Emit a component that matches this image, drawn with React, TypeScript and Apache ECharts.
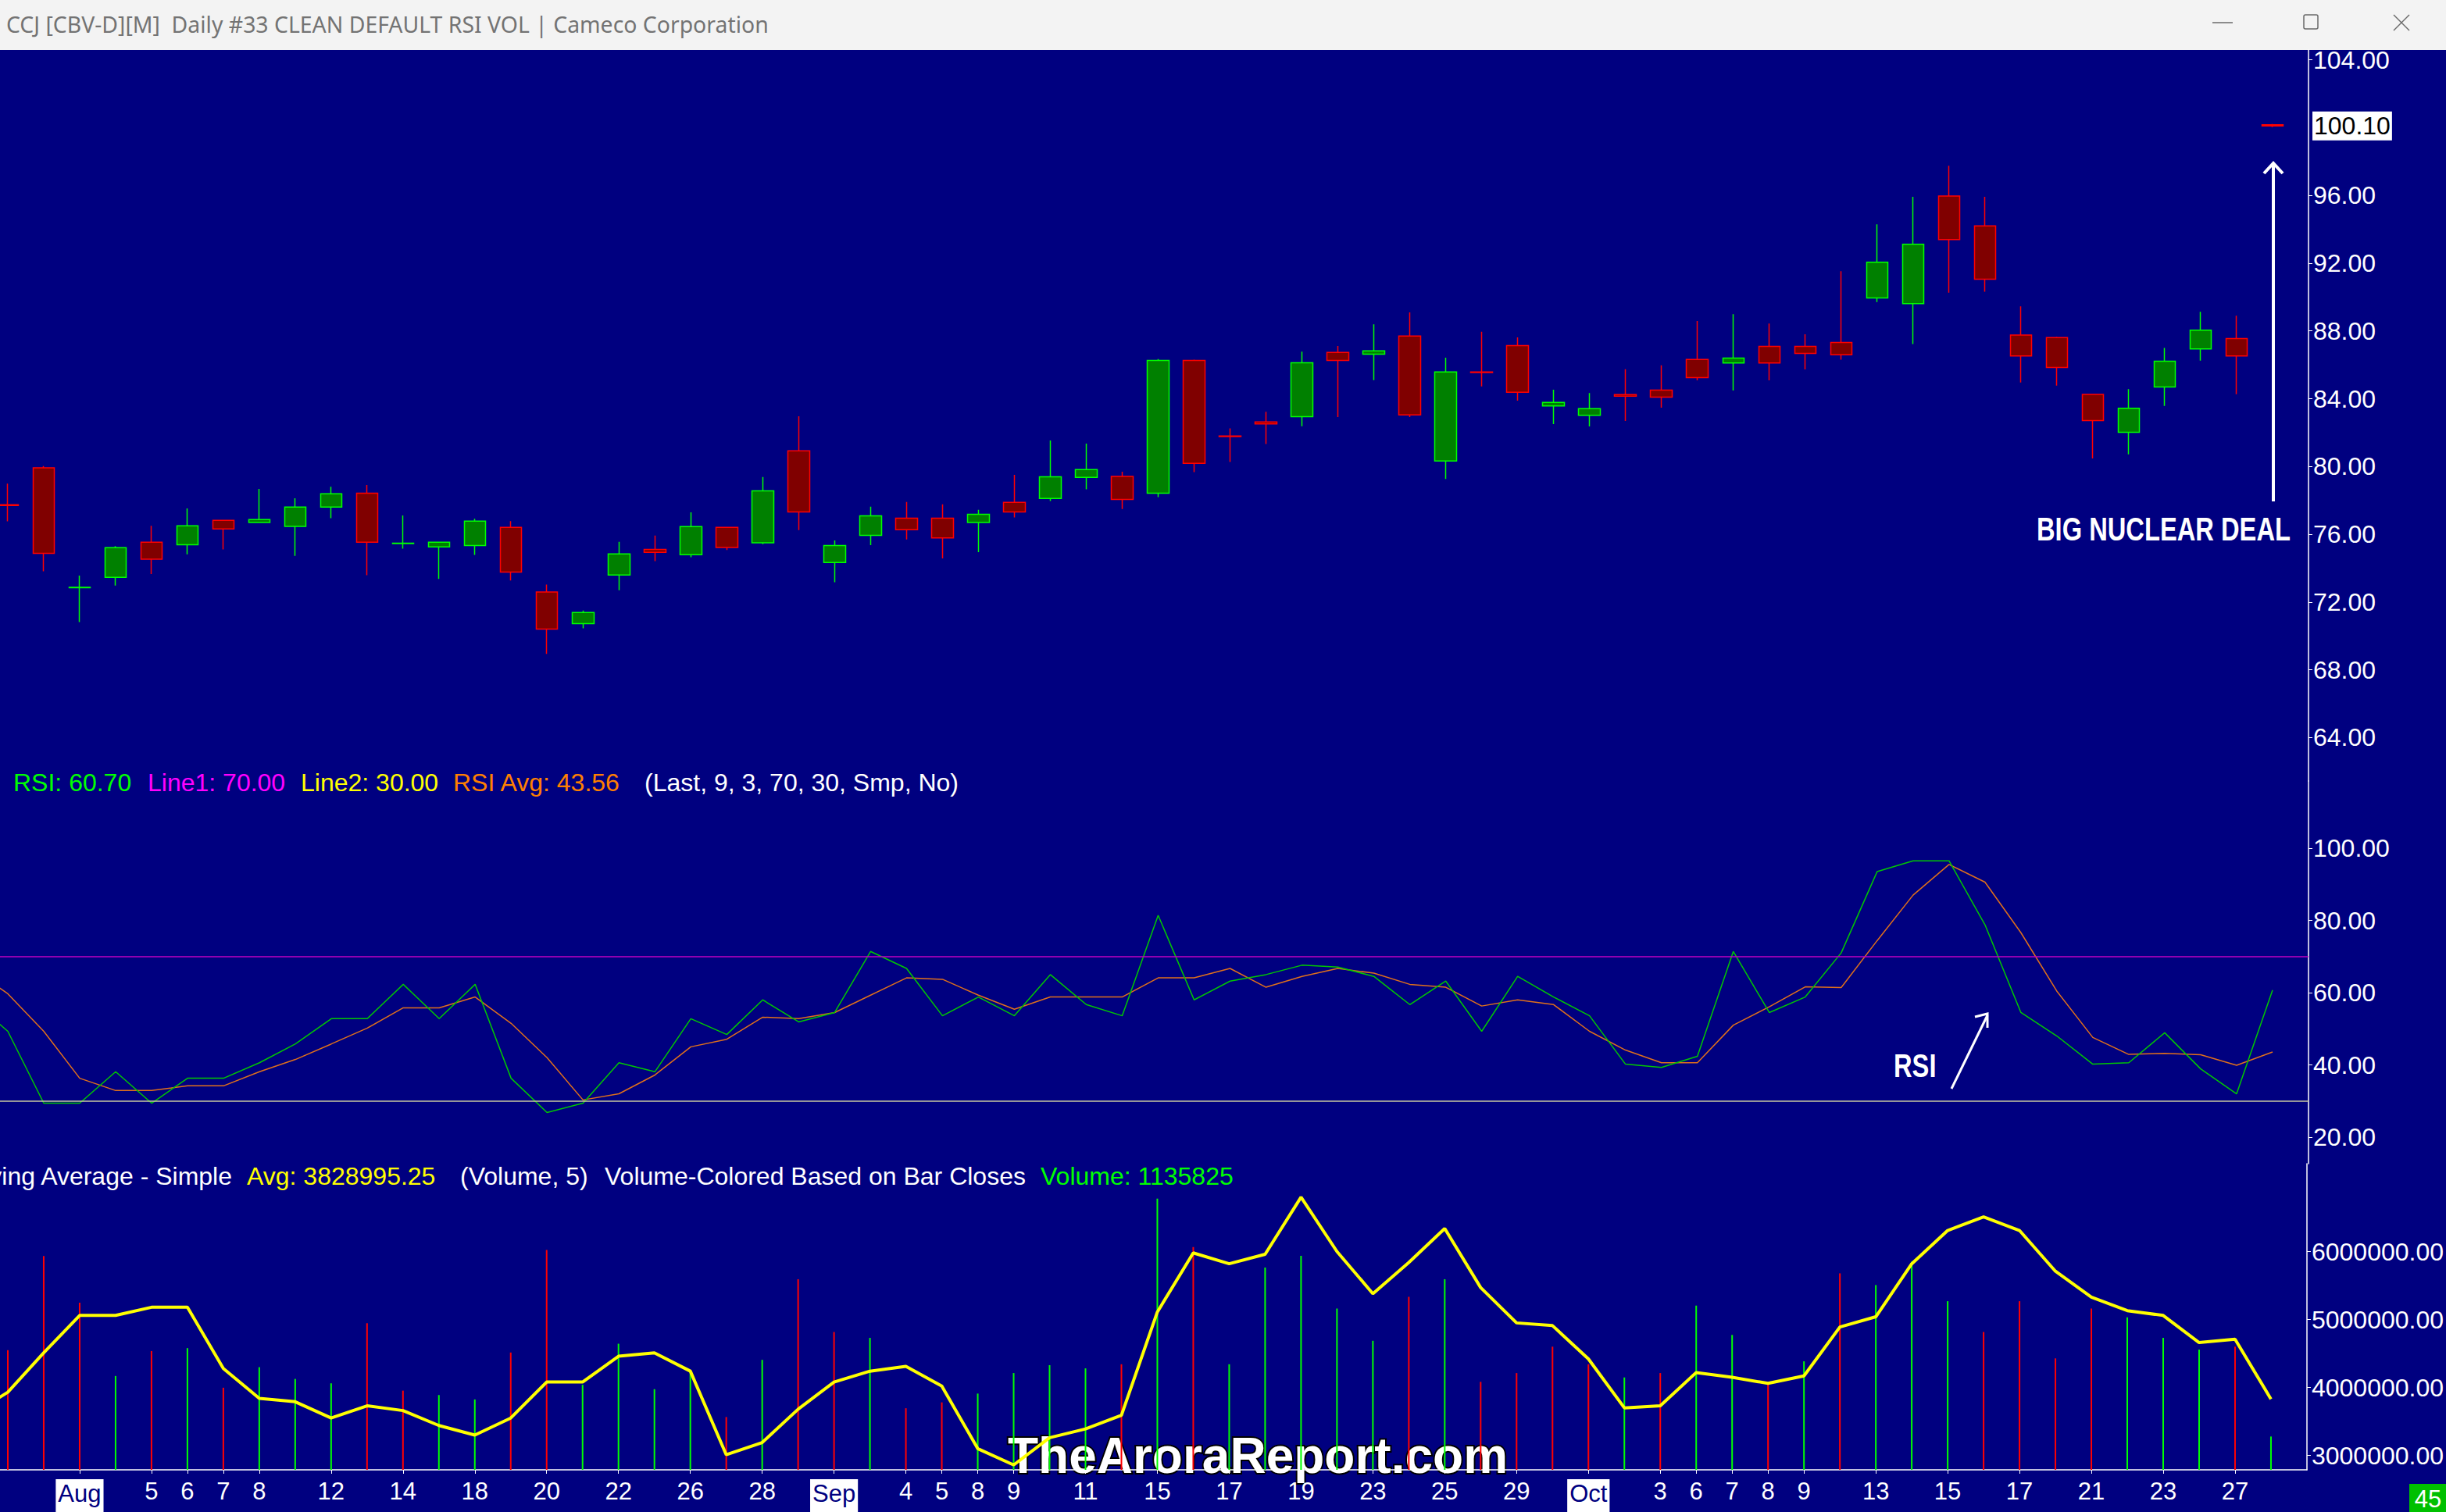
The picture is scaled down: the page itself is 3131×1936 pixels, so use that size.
import React, { useEffect, useRef } from 'react';
import * as echarts from 'echarts';

// ---------- DATA ----------
// category axis: first and last entries are empty padding slots
const dates = [
  '07-29', '07-30', '07-31', '08-01', '08-04', '08-05', '08-06', '08-07', '08-08', '08-11', '08-12', '08-13',
  '08-14', '08-15', '08-18', '08-19', '08-20', '08-21', '08-22', '08-25', '08-26', '08-27', '08-28', '08-29',
  '09-02', '09-03', '09-04', '09-05', '09-08', '09-09', '09-10', '09-11', '09-12', '09-15', '09-16', '09-17',
  '09-18', '09-19', '09-22', '09-23', '09-24', '09-25', '09-26', '09-29', '09-30', '10-01', '10-02', '10-03',
  '10-06', '10-07', '10-08', '10-09', '10-10', '10-13', '10-14', '10-15', '10-16', '10-17', '10-20', '10-21',
  '10-22', '10-23', '10-24', '10-27', '10-28', '10-29',
];

const dateLabels: Record<string, string> = {
  '08-01': 'Aug', '08-05': '5', '08-06': '6', '08-07': '7', '08-08': '8', '08-12': '12', '08-14': '14',
  '08-18': '18', '08-20': '20', '08-22': '22', '08-26': '26', '08-28': '28', '09-02': 'Sep', '09-04': '4',
  '09-05': '5', '09-08': '8', '09-09': '9', '09-11': '11', '09-15': '15', '09-17': '17', '09-19': '19',
  '09-23': '23', '09-25': '25', '09-29': '29', '10-01': 'Oct', '10-03': '3', '10-06': '6', '10-07': '7',
  '10-08': '8', '10-09': '9', '10-13': '13', '10-15': '15', '10-17': '17', '10-21': '21', '10-23': '23',
  '10-27': '27',
};
const monthNames = ['Aug', 'Sep', 'Oct'];

// bars from 07-30 to 10-28
const opens = [
  77.75, 79.92, 72.85, 73.46, 75.53, 75.38, 76.82, 76.70, 76.47, 77.61, 78.42, 75.45, 75.26, 75.34, 76.41, 72.59,
  70.73, 73.60, 75.11, 74.80, 76.41, 75.50, 80.93, 74.33, 75.94, 76.95, 76.95, 76.70, 77.88, 78.11, 79.36, 79.41,
  78.42, 86.26, 81.80, 82.63, 82.94, 86.73, 86.63, 87.70, 80.33, 85.58, 87.13, 83.58, 83.02, 84.24, 84.51, 86.32,
  86.11, 87.09, 87.09, 87.32, 89.95, 89.61, 95.96, 94.20, 87.76, 87.61, 84.25, 82.02, 84.69, 86.94, 87.55, 100.17,
];
const closes = [
  77.70, 74.88, 72.87, 75.21, 74.53, 76.50, 76.31, 76.87, 77.61, 78.39, 75.53, 75.47, 75.53, 76.78, 73.77, 70.41,
  71.38, 74.84, 74.93, 76.45, 75.22, 78.56, 77.32, 75.34, 77.09, 76.27, 75.79, 77.18, 77.32, 79.39, 79.82, 78.06,
  86.26, 80.19, 81.76, 82.52, 86.12, 86.26, 86.82, 83.04, 85.58, 85.54, 84.38, 83.78, 83.41, 84.15, 84.09, 85.25,
  86.40, 86.11, 86.67, 86.59, 92.05, 93.12, 93.39, 91.05, 86.52, 85.84, 82.71, 83.44, 86.21, 88.05, 86.52, 100.10,
];
const lows = [
  76.76, 73.81, 70.82, 72.97, 73.65, 74.82, 75.11, 76.68, 74.72, 76.95, 73.58, 75.15, 73.36, 74.78, 73.27, 68.94,
  70.45, 72.70, 74.41, 74.64, 75.07, 75.42, 76.25, 73.17, 75.36, 75.69, 74.58, 74.95, 76.99, 77.96, 78.66, 77.49,
  78.19, 79.67, 80.27, 81.33, 82.38, 82.92, 85.10, 82.92, 79.26, 84.73, 83.89, 82.50, 82.36, 82.69, 83.47, 85.08,
  84.48, 85.08, 85.73, 86.30, 89.70, 87.23, 90.26, 90.32, 84.96, 84.77, 80.47, 80.72, 83.58, 86.25, 84.27, 100.03,
];
const highs = [
  78.99, 80.02, 73.56, 75.30, 76.50, 77.53, 76.85, 78.68, 78.13, 78.81, 78.91, 77.11, 75.55, 76.91, 76.78, 73.03,
  71.50, 75.55, 75.92, 77.30, 76.43, 79.38, 82.96, 75.63, 77.63, 77.90, 77.77, 77.44, 79.51, 81.53, 81.35, 79.69,
  86.34, 86.30, 82.25, 83.23, 86.78, 87.11, 88.39, 89.09, 86.42, 87.95, 87.62, 84.53, 84.34, 85.74, 85.97, 88.59,
  88.99, 88.44, 87.80, 91.53, 94.29, 95.92, 97.75, 95.92, 89.45, 87.65, 84.27, 84.56, 87.00, 89.13, 88.90, 100.21,
];
const lastPrice = 100.1;

// RSI(9) and its 3-bar average, from 07-29 to 10-28
const rsiValues = [
  58.0, 49.3, 29.4, 29.4, 38.1, 29.4, 36.3, 36.3, 40.6, 45.8, 52.8, 52.8, 62.3, 52.8, 62.3, 36.3,
  26.8, 29.4, 40.6, 38.1, 52.8, 48.4, 58.0, 51.9, 54.5, 71.4, 66.7, 53.6, 58.8, 53.6, 65.0, 56.7,
  53.6, 81.4, 58.0, 63.2, 65.0, 67.6, 67.1, 64.5, 56.7, 63.2, 49.3, 64.5, 58.8, 53.6, 40.2, 39.3,
  42.4, 71.4, 54.5, 58.8, 71.0, 93.5, 96.5, 96.5, 78.8, 54.5, 48.0, 40.2, 40.6, 48.9, 38.9, 32.0, 60.7,
];
const rsiAvgValues = [
  66.7, 59.7, 49.3, 36.3, 32.9, 32.9, 34.2, 34.2, 38.1, 41.5, 45.8, 50.2, 55.8, 55.8, 58.8, 51.5,
  42.0, 30.3, 32.0, 37.2, 45.0, 47.1, 53.2, 52.8, 54.5, 59.3, 64.1, 63.7, 59.3, 55.4, 58.8, 58.8,
  58.8, 64.1, 64.1, 66.7, 61.5, 64.5, 66.7, 65.4, 62.3, 61.5, 56.3, 58.0, 56.7, 49.3, 44.1, 40.6,
  40.6, 51.0, 56.1, 61.6, 61.4, 74.4, 87.0, 95.5, 90.6, 76.6, 60.4, 47.6, 42.9, 43.2, 42.8, 39.9, 43.56,
];
const rsiLine1 = 70;
const rsiLine2 = 30;

// daily volume (07-30 to 10-28) and its 5-bar simple average (07-29 to 10-28)
const volumes = [
  4080000, 7290000, 5700000, 3200000, 4050000, 4150000, 2800000, 3500000, 3100000, 2950000, 5000000, 2700000,
  2550000, 2400000, 4000000, 7500000, 2900000, 4300000, 2750000, 3300000, 1800000, 3750000, 6500000, 4700000,
  4500000, 2100000, 2300000, 2600000, 3300000, 3570000, 3460000, 3600000, 9250000, 7600000, 3600000, 6900000,
  7300000, 5500000, 4400000, 5900000, 6500000, 3000000, 3300000, 4200000, 3600000, 3150000, 3300000, 5600000,
  4600000, 2950000, 3700000, 6700000, 6300000, 7100000, 5750000, 4700000, 5750000, 3800000, 5500000, 5200000,
  4500000, 4100000, 4200000, 1135825,
];
const volumeAvg = [
  3600000, 3930000, 4510000, 5060000, 5060000, 5180000, 5180000, 4280000, 3840000, 3790000, 3550000, 3730000,
  3660000, 3440000, 3300000, 3550000, 4080000, 4080000, 4460000, 4510000, 4240000, 3010000, 3190000, 3680000,
  4080000, 4240000, 4310000, 4020000, 3100000, 2860000, 3260000, 3390000, 3590000, 5110000, 5980000, 5820000,
  5960000, 6800000, 6000000, 5380000, 5840000, 6340000, 5470000, 4950000, 4910000, 4420000, 3700000, 3730000,
  4220000, 4150000, 4060000, 4170000, 4890000, 5040000, 5820000, 6310000, 6510000, 6310000, 5710000, 5330000,
  5130000, 5060000, 4660000, 4710000, 3828995.25,
];

const priceTicks = [64, 68, 72, 76, 80, 84, 88, 92, 96, 104];
const rsiTicks = [20, 40, 60, 80, 100];
const volumeTicks = [3000000, 4000000, 5000000, 6000000];

// ---------- STYLE ----------
const NAVY = '#000080';
const AXIS_FONT = '"Liberation Sans", Arial, sans-serif';
const W = 3131;
const H = 1936;
const SHIFT = 36; // chart canvas starts this far left of the window so the first bar is cut
const GRID = { left: 0, right: 176 };
const PRICE_RANGE = { min: 61.44, max: 104.58 };

export default function App() {
  const ref = useRef<HTMLDivElement>(null);

  useEffect(() => {
    if (!ref.current) return;
    const chart = echarts.init(ref.current, undefined, { renderer: 'svg' });

    const n = dates.length;
    const pad = (arr: any[], lead: number) => {
      const out: any[] = [];
      for (let i = 0; i < n; i++) {
        const j = i - lead;
        out.push(j >= 0 && j < arr.length ? arr[j] : '-');
      }
      return out;
    };
    const candleData = pad(opens.map((o, i) => [o, closes[i], lows[i], highs[i]]), 1);
    const volData = pad(
      volumes.map((v, i) => {
        const prev = i > 0 ? closes[i - 1] : opens[i];
        return { value: v, itemStyle: { color: closes[i] >= prev ? '#00ff00' : '#ff0000' } };
      }),
      1,
    );
    const rsiData = pad(rsiValues, 0);
    const rsiAvgData = pad(rsiAvgValues, 0);
    const volAvgData = pad(volumeAvg, 0);

    const yAxisBase = (ticks: number[], fmt: (v: number) => string) => ({
      type: 'value',
      position: 'right',
      scale: true,
      splitLine: { show: false },
      axisLine: { show: true, onZero: false, lineStyle: { color: '#ffffff', width: 1.5 } },
      axisTick: { show: true, length: 5, lineStyle: { color: '#ffffff' }, customValues: ticks },
      axisLabel: {
        color: '#ffffff',
        fontSize: 32,
        fontFamily: AXIS_FONT,
        margin: 6,
        customValues: ticks,
        formatter: fmt,
      },
    });

    const xBase = {
      type: 'category',
      data: dates,
      boundaryGap: false,
    };

    const txt = (x: number, y: number, text: string, fill: string, extra: any = {}) => ({
      type: 'text',
      x,
      y,
      silent: true,
      style: {
        text,
        fill,
        font: `32px ${AXIS_FONT}`,
        verticalAlign: 'middle',
        ...extra,
      },
    });

    const option: any = {
      animation: false,
      backgroundColor: NAVY,
      grid: [
        { ...GRID, top: 64, height: 936 },
        { ...GRID, top: 1000, height: 490 },
        { ...GRID, top: 1490, height: 404 },
      ],
      xAxis: [
        { ...xBase, gridIndex: 0, show: false },
        { ...xBase, gridIndex: 1, show: false },
        {
          ...xBase,
          gridIndex: 2,
          axisLine: { show: true, lineStyle: { color: '#ffffff', width: 1.5 } },
          axisTick: {
            show: true,
            length: 5,
            lineStyle: { color: '#ffffff' },
            interval: (i: number, v: string) => !!dateLabels[v],
          },
          axisLabel: {
            interval: (i: number, v: string) => !!dateLabels[v],
            color: '#ffffff',
            fontSize: 31,
            fontFamily: AXIS_FONT,
            margin: 12,
            hideOverlap: false,
            formatter: (v: string) => {
              const l = dateLabels[v] || '';
              return monthNames.includes(l) ? `{m|${l}}` : l;
            },
            rich: {
              m: {
                backgroundColor: '#ffffff',
                color: NAVY,
                fontSize: 31,
                fontFamily: AXIS_FONT,
                padding: [3, 3, 8, 3],
              },
            },
          },
        },
      ],
      yAxis: [
        { ...yAxisBase(priceTicks, (v) => v.toFixed(2)), gridIndex: 0, ...PRICE_RANGE },
        { ...yAxisBase(rsiTicks, (v) => v.toFixed(2)), gridIndex: 1, min: 12.65, max: 118.6 },
        { ...yAxisBase(volumeTicks, (v) => v.toFixed(2)), gridIndex: 2, min: 2788000, max: 7293000 },
        { type: 'value', gridIndex: 2, show: false, min: 0, max: 10440000, splitLine: { show: false } },
        {
          // last-price marker on the price scale
          type: 'value',
          gridIndex: 0,
          position: 'right',
          ...PRICE_RANGE,
          splitLine: { show: false },
          axisLine: { show: false },
          axisTick: { show: false },
          axisLabel: {
            customValues: [lastPrice],
            formatter: (v: number) => v.toFixed(2),
            color: '#000000',
            backgroundColor: '#ffffff',
            fontSize: 32,
            fontFamily: AXIS_FONT,
            padding: [3, 2, 2, 2],
            margin: 5,
          },
        },
      ],
      series: [
        {
          type: 'candlestick',
          xAxisIndex: 0,
          yAxisIndex: 0,
          data: candleData,
          barWidth: 28,
          itemStyle: {
            color: '#008000',
            color0: '#800000',
            borderColor: '#00ff00',
            borderColor0: '#ff0000',
            borderWidth: 1.5,
          },
        },
        {
          type: 'line',
          xAxisIndex: 1,
          yAxisIndex: 1,
          data: rsiData,
          symbol: 'none',
          lineStyle: { color: '#00c800', width: 1.5 },
          z: 3,
          markLine: {
            silent: true,
            symbol: 'none',
            label: { show: false },
            data: [
              { yAxis: rsiLine1, lineStyle: { color: '#c000c0', width: 1.5, type: 'solid' } },
              { yAxis: rsiLine2, lineStyle: { color: '#c8c8a0', width: 1.5, type: 'solid' } },
            ],
          },
        },
        {
          type: 'line',
          xAxisIndex: 1,
          yAxisIndex: 1,
          data: rsiAvgData,
          symbol: 'none',
          lineStyle: { color: '#e0701a', width: 1.5 },
          z: 2,
        },
        {
          type: 'bar',
          xAxisIndex: 2,
          yAxisIndex: 3,
          data: volData,
          barWidth: 2,
          z: 2,
        },
        {
          type: 'line',
          xAxisIndex: 2,
          yAxisIndex: 2,
          data: volAvgData,
          symbol: 'none',
          lineStyle: { color: '#ffff00', width: 4 },
          z: 3,
        },
      ],
      graphic: [
        {
          type: 'group',
          x: SHIFT,
          y: 0,
          children: [
            // window title bar
            { type: 'rect', shape: { x: 0, y: 0, width: W, height: 64 }, style: { fill: '#f3f3f3' }, silent: true },
            {
              type: 'text', x: 8, y: 31, silent: true,
              style: {
                text: 'CCJ [CBV-D][M]  Daily #33 CLEAN DEFAULT RSI VOL | Cameco Corporation',
                fill: '#737373', font: '28.4px "Noto Sans", "Open Sans", sans-serif', verticalAlign: 'middle',
              },
            },
            { type: 'line', shape: { x1: 2832, y1: 29, x2: 2858, y2: 29 }, style: { stroke: '#6a6a6a', lineWidth: 1.5 }, silent: true },
            { type: 'rect', shape: { x: 2949, y: 19, width: 18, height: 18, r: 2 }, style: { fill: 'none', stroke: '#6a6a6a', lineWidth: 1.5 }, silent: true },
            { type: 'line', shape: { x1: 3064, y1: 19, x2: 3084, y2: 39 }, style: { stroke: '#6a6a6a', lineWidth: 1.5 }, silent: true },
            { type: 'line', shape: { x1: 3084, y1: 19, x2: 3064, y2: 39 }, style: { stroke: '#6a6a6a', lineWidth: 1.5 }, silent: true },

            // RSI header
            txt(17, 1002, 'RSI: 60.70', '#00ff00'),
            txt(189, 1002, 'Line1: 70.00', '#ff00ff'),
            txt(385, 1002, 'Line2: 30.00', '#ffff00'),
            txt(580, 1002, 'RSI Avg: 43.56', '#ff8000'),
            txt(825, 1002, '(Last, 9, 3, 70, 30, Smp, No)', '#ffffff'),

            // Volume header
            txt(297, 1506, 'Moving Average - Simple', '#ffffff', { align: 'right' }),
            txt(316, 1506, 'Avg: 3828995.25', '#ffff00'),
            txt(589, 1506, '(Volume, 5)', '#ffffff'),
            txt(774, 1506, 'Volume-Colored Based on Bar Closes', '#ffffff'),
            txt(1332, 1506, 'Volume: 1135825', '#00ff00'),

            // BIG NUCLEAR DEAL annotation
            { type: 'line', shape: { x1: 2910, y1: 642, x2: 2910, y2: 212 }, style: { stroke: '#ffffff', lineWidth: 4 }, silent: true },
            {
              type: 'polyline', shape: { points: [[2898, 222], [2910, 209], [2922, 222]] },
              style: { stroke: '#ffffff', lineWidth: 4, fill: 'none' }, silent: true,
            },
            {
              type: 'text', x: 2607, y: 677, scaleX: 0.76, silent: true,
              style: { text: 'BIG NUCLEAR DEAL', fill: '#ffffff', font: `bold 43px ${AXIS_FONT}`, verticalAlign: 'middle' },
            },

            // RSI annotation
            {
              type: 'text', x: 2424, y: 1364, scaleX: 0.76, silent: true,
              style: { text: 'RSI', fill: '#ffffff', font: `bold 43px ${AXIS_FONT}`, verticalAlign: 'middle' },
            },
            { type: 'line', shape: { x1: 2498, y1: 1394, x2: 2544, y2: 1300 }, style: { stroke: '#ffffff', lineWidth: 3 }, silent: true },
            {
              type: 'polyline', shape: { points: [[2528, 1302], [2544, 1298], [2544, 1316]] },
              style: { stroke: '#ffffff', lineWidth: 3, fill: 'none' }, silent: true,
            },

            // watermark
            {
              type: 'text', x: 1610, y: 1864, silent: true,
              style: {
                text: 'TheAroraReport.com', fill: '#ffffff', font: `bold 64px ${AXIS_FONT}`,
                align: 'center', verticalAlign: 'middle', stroke: '#000000', lineWidth: 4,
              },
            },

            // bar counter box
            { type: 'rect', shape: { x: 3084, y: 1900, width: 47, height: 36 }, style: { fill: '#00c000' }, silent: true },
            txt(3108, 1919, '45', '#ffffff', { align: 'center', font: `31px ${AXIS_FONT}` }),
          ],
        },
      ],
    };

    chart.setOption(option);
    return () => chart.dispose();
  }, []);

  return <div ref={ref} style={{ position: 'fixed', left: -SHIFT, top: 0, width: W + SHIFT, height: H }} />;
}
